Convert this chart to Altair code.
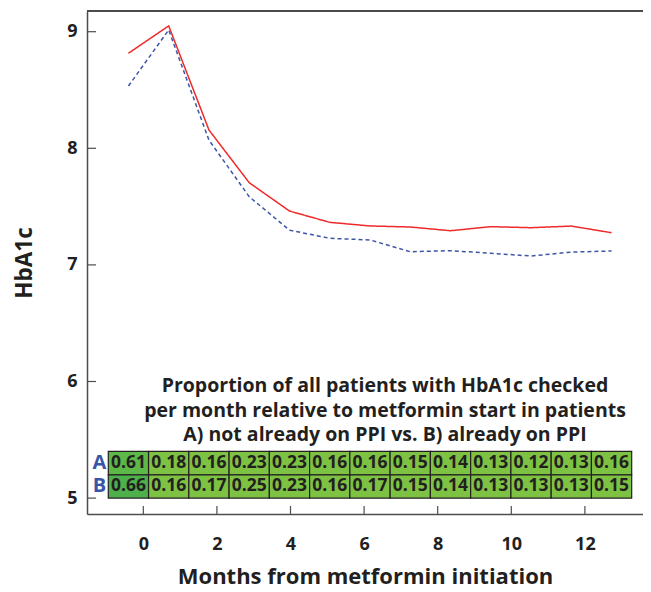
import altair as alt
import pandas as pd

# ---- data ----
cell_index = list(range(13))          # one cell / point per month slot
hba1c_not_ppi = [8.815, 9.05, 8.157, 7.705, 7.462, 7.365, 7.334, 7.325, 7.293, 7.328, 7.319, 7.333, 7.276]
hba1c_ppi = [8.534, 9.015, 8.07, 7.585, 7.298, 7.228, 7.214, 7.113, 7.122, 7.10, 7.076, 7.11, 7.119]
prop_a = [0.61, 0.18, 0.16, 0.23, 0.23, 0.16, 0.16, 0.15, 0.14, 0.13, 0.12, 0.13, 0.16]
prop_b = [0.66, 0.16, 0.17, 0.25, 0.23, 0.16, 0.17, 0.15, 0.14, 0.13, 0.13, 0.13, 0.15]
row_names = ["A", "B"]
x_ticks = [0, 2, 4, 6, 8, 10, 12]
y_ticks = [5, 6, 7, 8, 9]
note_lines = [
    "Proportion of all patients with HbA1c checked",
    "per month relative to metformin start in patients",
    "A) not already on PPI vs. B) already on PPI",
]

W, H = 556, 503
FONT = "Open Sans"
INK = "#231f20"
BLUE = "#3a55a5"
RED = "#ee2a2a"
FRAME = "#4d4d4d"

# ---- tables ----
lines_df = pd.DataFrame(
    [{"pos": i + 0.5, "v": v, "g": "A"} for i, v in zip(cell_index, hba1c_not_ppi)]
    + [{"pos": i + 0.5, "v": v, "g": "B"} for i, v in zip(cell_index, hba1c_ppi)]
)
cells = []
for r, vals in zip(row_names, [prop_a, prop_b]):
    lo = 5.2 if r == "A" else 5.0
    for i, v in zip(cell_index, vals):
        cells.append({
            "x0": i, "x1": i + 1, "y0": lo, "y1": lo + 0.2, "xm": i + 0.5, "ym": lo + 0.1,
            "txt": f"{v:.2f}", "shade": (r if i == 0 else "rest"),
        })
cells_df = pd.DataFrame(cells)
rows_df = pd.DataFrame({"x0": [0], "ym": [5.3]})   # first row centre; second row follows below

y_scale = alt.Scale(domain=[4.8636, 9.1775], nice=False, zero=False)
month_scale = alt.Scale(domain=[-1.530, 13.579], nice=False, zero=False)


def idx_scale():
    return alt.Scale(domain=[-0.529, 13.281], nice=False, zero=False)


y_axis = alt.Axis(
    values=y_ticks, tickSize=0, labelPadding=10, grid=False, format="d",
    labelFont=FONT, labelFontSize=18, labelFontWeight="bold", labelColor=INK,
    domainColor=FRAME, domainWidth=1.5,
    title="HbA1c", titleFont=FONT, titleFontSize=22.5, titleFontWeight="bold",
    titleColor=INK, titlePadding=30,
)
x_axis = alt.Axis(
    values=x_ticks, tickSize=0, labelPadding=21, grid=False, format="d",
    labelFont=FONT, labelFontSize=18, labelFontWeight="bold", labelColor=INK,
    domainColor=FRAME, domainWidth=1.5,
    title="Months from metformin initiation", titleFont=FONT, titleFontSize=22,
    titleFontWeight="bold", titleColor=INK, titlePadding=13,
)

xtick_df = pd.DataFrame({"m": x_ticks})
ytick_df = pd.DataFrame({"v": y_ticks})

x_ticks_layer = alt.Chart(xtick_df).mark_rule(color=FRAME, strokeWidth=1.2).encode(
    x=alt.X("m:Q", scale=month_scale, axis=x_axis),
    y=alt.value(H),
    y2=alt.value(H - 8),
)
y_ticks_layer = alt.Chart(ytick_df).mark_rule(color=FRAME, strokeWidth=1.2).encode(
    y=alt.Y("v:Q", scale=y_scale, axis=y_axis),
    x=alt.value(0),
    x2=alt.value(9),
)
top_frame = alt.Chart(xtick_df).mark_rule(color=FRAME, strokeWidth=1.5).encode(
    x=alt.value(0), x2=alt.value(W), y=alt.value(0)
)

rects = alt.Chart(cells_df).mark_rect(stroke=INK, strokeWidth=1.2).encode(
    x=alt.X("x0:Q", scale=idx_scale(), axis=None),
    x2="x1:Q",
    y=alt.Y("y0:Q", scale=y_scale, axis=y_axis),
    y2="y1:Q",
    fill=alt.Fill("shade:N", legend=None,
                  scale=alt.Scale(domain=["A", "B", "rest"], range=["#5cb847", "#4eb04a", "#7dc243"])),
)
cell_text = alt.Chart(cells_df).mark_text(
    font=FONT, fontSize=17.5, fontWeight="bold", color=INK, baseline="middle", align="center"
).encode(
    x=alt.X("xm:Q", scale=idx_scale(), axis=None),
    y=alt.Y("ym:Q", scale=y_scale, axis=y_axis),
    text="txt:N",
)
row_text = alt.Chart(rows_df).mark_text(
    text=row_names, font=FONT, fontSize=20, fontWeight="bold", color=BLUE,
    baseline="middle", align="right", dx=-2, lineHeight=23.3,
).encode(
    x=alt.X("x0:Q", scale=idx_scale(), axis=None),
    y=alt.Y("ym:Q", scale=y_scale, axis=y_axis),
)
lines = alt.Chart(lines_df).mark_line(strokeWidth=1.5).encode(
    x=alt.X("pos:Q", scale=idx_scale(), axis=None),
    y=alt.Y("v:Q", scale=y_scale, axis=y_axis),
    color=alt.Color("g:N", legend=None, scale=alt.Scale(domain=["A", "B"], range=[RED, "#3d56a6"])),
    strokeDash=alt.StrokeDash("g:N", legend=None,
                              scale=alt.Scale(domain=["A", "B"], range=[[1, 0], [4, 3]])),
)
note = alt.Chart(rows_df).mark_text(
    text=note_lines, font=FONT, fontSize=19.5, fontWeight="bold", color=INK,
    align="center", baseline="alphabetic", lineHeight=24.5,
).encode(x=alt.value(298), y=alt.value(381))

chart = alt.layer(
    y_ticks_layer, x_ticks_layer, top_frame, rects, cell_text, row_text, lines, note
).resolve_scale(x="independent").properties(
    width=W, height=H,
    autosize=alt.AutoSizeParams(type="none"),
    padding={"left": 79, "top": 3, "right": 0, "bottom": 78},
).configure_view(stroke=None)

chart.save("out.html", embed_options={"renderer": "svg", "actions": False})
